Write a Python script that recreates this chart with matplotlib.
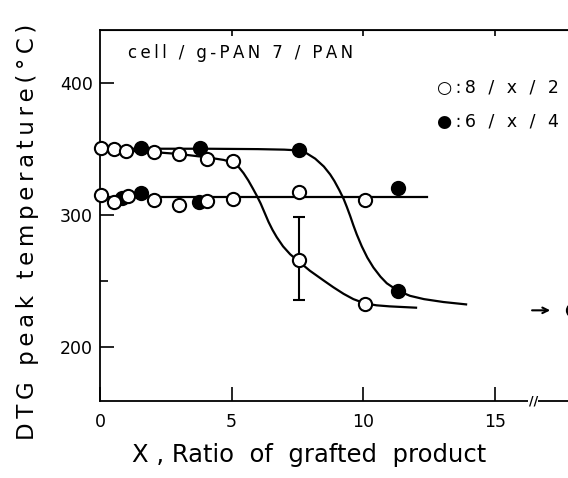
import matplotlib
matplotlib.use("Agg")
import matplotlib.pyplot as plt

plt.rcParams['font.family'] = ['DejaVu Sans']

# --- data ---
# upper DTG peak
open_upper_x = [0.05, 0.55, 1.0, 2.05, 3.0, 4.05, 5.05]
open_upper_y = [351, 350, 349, 348, 346.5, 343, 341]
filled_upper_x = [1.55, 3.8, 7.55]
filled_upper_y = [351, 351, 349.5]
# lower DTG peak
open_lower_x = [0.05, 0.55, 1.05, 2.05, 3.0, 4.05, 5.05, 7.55, 10.05]
open_lower_y = [315.5, 310, 314.5, 311.5, 308, 311, 312.5, 317.5, 312]
filled_lower_x = [0.85, 1.55, 3.75, 11.3]
filled_lower_y = [313.5, 317, 310, 320.5]
# points after the drop
open_drop_x = [7.55, 10.05]
open_drop_y = [266, 233]
open_err_lo = [30]
open_err_hi = [33]
filled_drop_x = [11.3]
filled_drop_y = [243]

# hand-drawn curves
curve_open_x = [0, 1, 2, 3, 4.05, 4.7, 5.05, 5.25, 5.45, 5.63, 5.8, 5.95, 6.1,
                6.25, 6.4, 6.55, 6.71, 6.95, 7.22, 7.55, 7.97, 8.5, 8.86,
                9.25, 9.62, 10.05, 10.5, 11, 12]
curve_open_y = [350, 349, 348, 346.5, 344, 342, 340, 337, 332, 326.5, 320.5,
                315, 309, 302, 295, 289, 283.5, 276.5, 270.5, 265, 258, 250.5,
                245.5, 240.5, 236.5, 233.3, 231.8, 231, 230]
curve_filled_x = [0, 2, 4, 6, 7.0, 7.55, 7.85, 8.17, 8.5, 8.74, 8.9, 9.09,
                  9.25, 9.37, 9.5, 9.62, 9.75, 9.94, 10.15, 10.38, 10.65,
                  10.89, 11.3, 11.77, 12.3, 13.04, 13.9]
curve_filled_y = [350.5, 350.5, 350.5, 350.2, 349.8, 349.2, 347, 343, 337,
                  331, 326, 319, 312.5, 306.5, 299.5, 292.5, 285.5, 276.5,
                  268, 260.5, 253.5, 248.5, 243, 239, 236.5, 234.3, 232.5]
lower_line_x = [0, 12.4]
lower_line_y = [314, 314]

# PAN value, off the scale
pan_x = [17.95]
pan_y = [228]


def spaced(s, gap='\u2009'):
    return gap.join(s)


fig = plt.figure(figsize=(5.68, 4.78), dpi=100)
ax = fig.add_axes([100 / 568, 1 - 400.7 / 478, 468 / 568, 370.7 / 478])
ax.set_xlim(0, 17.77)
ax.set_ylim(159.5, 440.5)

lw = 1.6
for cx, cy in [(curve_open_x, curve_open_y), (curve_filled_x, curve_filled_y),
               (lower_line_x, lower_line_y)]:
    ax.plot(cx, cy, color='black', lw=lw, zorder=2, solid_joinstyle='round')

ax.errorbar([open_drop_x[0]], [open_drop_y[0]], yerr=[open_err_lo, open_err_hi],
            fmt='none', ecolor='black', elinewidth=1.5, capsize=4.5,
            capthick=1.5, zorder=2)

mk = dict(marker='o', ms=9.5, mec='black', mew=1.5, ls='none', clip_on=False,
          zorder=3)
ax.plot(filled_upper_x, filled_upper_y, mfc='black', **mk)
ax.plot(filled_lower_x, filled_lower_y, mfc='black', **mk)
ax.plot(filled_drop_x, filled_drop_y, mfc='black', **mk)
ax.plot(open_upper_x, open_upper_y, mfc='white', **mk)
ax.plot(open_lower_x, open_lower_y, mfc='white', **mk)
ax.plot(open_drop_x, open_drop_y, mfc='white', **mk)
ax.plot(pan_x, pan_y, mfc='white', **mk)

ax.annotate('', xy=(17.2, pan_y[0]), xytext=(16.3, pan_y[0]),
            arrowprops=dict(arrowstyle='->', color='black', lw=1.5))

# axes styling
ax.spines['right'].set_visible(False)
for s in ['left', 'bottom', 'top']:
    ax.spines[s].set_linewidth(1.3)
ax.set_xticks([0, 5, 10, 15])
ax.set_yticks([200, 300, 400])
ax.set_yticks([250, 350], minor=True)
ax.tick_params(axis='both', which='major', direction='in', length=10,
               width=1.2, labelsize=12.5)
ax.tick_params(axis='y', which='minor', direction='in', length=6, width=1.2)
ax.tick_params(axis='x', pad=9)
ax.tick_params(axis='y', pad=5)
top = ax.secondary_xaxis('top')
top.set_xticks([5, 10, 15])
top.tick_params(direction='in', length=4, width=1.2, labeltop=False)

# axis break on the bottom spine
ax.text(16.45, 159.5, '//', ha='center', va='center', fontsize=9,
        fontweight='bold', clip_on=False,
        bbox=dict(boxstyle='square,pad=0.05', fc='white', ec='none'))

fig.text(309 / 568, 1 - 455 / 478, 'X , Ratio  of  grafted  product',
         ha='center', va='center', fontsize=17.5)
fig.text(28 / 568, 1 - 232 / 478, spaced('DTG peak temperature(°C)'),
         ha='center', va='center', fontsize=16.5, rotation=90)
fig.text(128 / 568, 1 - 53 / 478, spaced('cell / g-PAN 7 / PAN'),
         ha='left', va='center', fontsize=12)
fig.text(437 / 568, 1 - 88 / 478, spaced('○:8 / x / 2'), ha='left',
         va='center', fontsize=12.5)
fig.text(437 / 568, 1 - 122 / 478, spaced('●:6 / x / 4'), ha='left',
         va='center', fontsize=12.5)

fig.savefig('out.png', dpi=100)
